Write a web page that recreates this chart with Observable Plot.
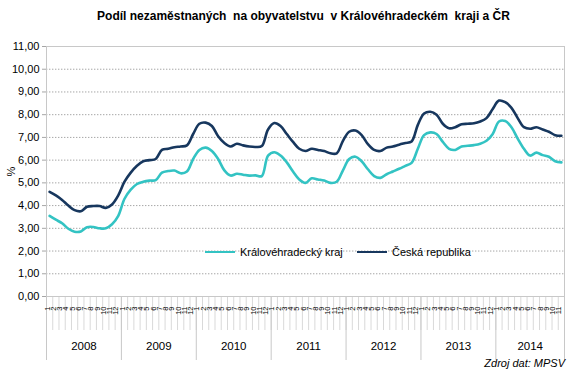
<!DOCTYPE html>
<html><head><meta charset="utf-8">
<script src="https://cdn.jsdelivr.net/npm/d3@7"></script>
<script src="https://cdn.jsdelivr.net/npm/@observablehq/plot@0.6"></script>
<style>
body{margin:0;background:#fff;font-family:"Liberation Sans",Arial,sans-serif;}
#wrap{position:relative;width:581px;height:381px;overflow:hidden;}
#title{position:absolute;left:13px;top:9px;width:581px;text-align:center;font-weight:bold;font-size:12px;white-space:pre;color:#000;}
.leg{position:absolute;top:246px;display:flex;align-items:center;font-size:11px;color:#000;white-space:pre;}
.sw{display:inline-block;width:30px;height:2.5px;margin-right:5px;}
#cap{position:absolute;right:16px;top:357px;font-size:11px;font-style:italic;color:#000;}
#chart{position:absolute;left:0;top:0;}
</style></head><body>
<div id="wrap"><div id="chart"></div><div id="title"></div><div id="cap"></div></div>
<script>
const titleText = "Podíl nezaměstnaných  na obyvatelstvu  v Královéhradeckém  kraji a ČR";
const captionText = "Zdroj dat: MPSV";
const years = [2008, 2009, 2010, 2011, 2012, 2013, 2014];
const monthLabels = ["1","2","3","4","5","6","7","8","9","10","11","12"];
const yTicks = [0,1,2,3,4,5,6,7,8,9,10,11];
const seriesNames = ["Královéhradecký kraj", "Česká republika"];
const seriesColors = ["#33c3c3", "#17375e"];
// Královéhradecký kraj, monthly 1/2008 – 11/2014
const kraj = [
  3.55, 3.38, 3.22, 2.98, 2.85, 2.86, 3.05, 3.06, 3.00, 3.00, 3.18, 3.55,
  4.30, 4.70, 4.95, 5.05, 5.10, 5.12, 5.45, 5.52, 5.54, 5.42, 5.50, 6.05,
  6.45, 6.55, 6.40, 6.05, 5.55, 5.32, 5.40, 5.36, 5.32, 5.33, 5.30, 6.20,
  6.35, 6.20, 5.90, 5.50, 5.15, 5.00, 5.20, 5.15, 5.10, 5.00, 5.05, 5.55,
  6.05, 6.15, 5.95, 5.60, 5.30, 5.22, 5.38, 5.50, 5.62, 5.75, 5.88, 6.50,
  7.10, 7.22, 7.15, 6.80, 6.50, 6.45, 6.60, 6.63, 6.66, 6.72, 6.85, 7.15,
  7.70, 7.72, 7.45, 6.95, 6.50, 6.20, 6.33, 6.22, 6.15, 5.95, 5.90
];
// Česká republika
const cr = [
  4.60, 4.45, 4.25, 4.00, 3.80, 3.75, 3.95, 3.98, 3.98, 3.90, 4.05, 4.45,
  5.05, 5.45, 5.75, 5.95, 6.00, 6.05, 6.45, 6.50, 6.57, 6.60, 6.65, 7.15,
  7.60, 7.65, 7.50, 7.05, 6.75, 6.60, 6.72, 6.65, 6.60, 6.58, 6.62, 7.35,
  7.63, 7.50, 7.15, 6.80, 6.50, 6.40, 6.50, 6.45, 6.40, 6.30, 6.30, 6.85,
  7.25, 7.30, 7.10, 6.70, 6.45, 6.40, 6.55, 6.60, 6.68, 6.75, 6.82, 7.55,
  8.05, 8.13, 8.00, 7.60, 7.40, 7.45, 7.58, 7.60, 7.62, 7.70, 7.85, 8.25,
  8.62, 8.55, 8.30, 7.85, 7.45, 7.38, 7.45, 7.35, 7.25, 7.10, 7.07
];

const n = kraj.length;
const idx = d3.range(n);
const rows = [
  ...kraj.map((v, i) => ({i, v, s: seriesNames[0]})),
  ...cr.map((v, i) => ({i, v, s: seriesNames[1]}))
];
const yearGroups = years.map((y, k) => {
  const start = 12 * k, end = Math.min(12 * k + 11, n - 1);
  return {year: y, start, end, mid: (start + end) / 2};
});
const yearBounds = [-0.5, ...yearGroups.map(g => g.end + 0.5)];
const monthBounds = d3.range(n + 1).map(i => i - 0.5);
const fmt = d => d.toFixed(2).replace(".", ",");

const W = 581, H = 381, mL = 46, mR = 17, mT = 46, mB = 85;
const frameH = H - mT - mB, frameW = W - mL - mR;

const chart = Plot.plot({
  width: W, height: H,
  marginLeft: mL, marginRight: mR, marginTop: mT, marginBottom: mB,
  style: {fontFamily: '"Liberation Sans", Arial, sans-serif', background: "#fff", color: "#000"},
  x: {type: "linear", domain: [-0.5, n - 0.5], axis: null},
  y: {domain: [0, 11], axis: null},
  color: {domain: seriesNames, range: seriesColors},
  marks: [
    Plot.ruleY(yTicks.filter(t => t > 0 && t < 11), {y: d => d, stroke: "#a6a6a6", strokeDasharray: "1.4,1.6", strokeWidth: 1}),
    Plot.ruleX(monthBounds, {x: d => d, stroke: "#d9d9d9", insetTop: frameH, insetBottom: -34}),
    Plot.ruleX(yearBounds, {x: d => d, stroke: "#c8c8c8", insetTop: frameH, insetBottom: -64}),
    Plot.frame({stroke: "#c8c8c8"}),
    Plot.ruleY(yTicks, {y: d => d, stroke: "#a6a6a6", insetLeft: -4, insetRight: frameW}),
    Plot.axisY(yTicks, {tickSize: 0, tickPadding: 7, tickFormat: fmt, fontSize: 11, label: "%", labelAnchor: "center", labelOffset: 39, labelArrow: "none"}),
    Plot.line(rows, {x: "i", y: "v", stroke: "s", z: "s", strokeWidth: 2.6, curve: "catmull-rom"}),
    Plot.text(idx, {x: d => d, text: d => monthLabels[d % 12], frameAnchor: "bottom", rotate: -90, textAnchor: "end", dy: 10, fontSize: 7.5, fill: "#000"}),
    Plot.text(yearGroups, {x: "mid", text: d => String(d.year), frameAnchor: "bottom", dy: 53, fontSize: 11.5, fill: "#000"})
  ]
});
document.getElementById("chart").appendChild(chart);
document.getElementById("title").textContent = titleText;
document.getElementById("cap").textContent = captionText;
const legLeft = [205, 357];
seriesNames.forEach((name, k) => {
  const d = document.createElement("div");
  d.className = "leg";
  d.style.left = legLeft[k] + "px";
  const sw = document.createElement("span");
  sw.className = "sw";
  sw.style.background = seriesColors[k];
  d.appendChild(sw);
  d.appendChild(document.createTextNode(name));
  document.getElementById("wrap").appendChild(d);
});
</script></body></html>
